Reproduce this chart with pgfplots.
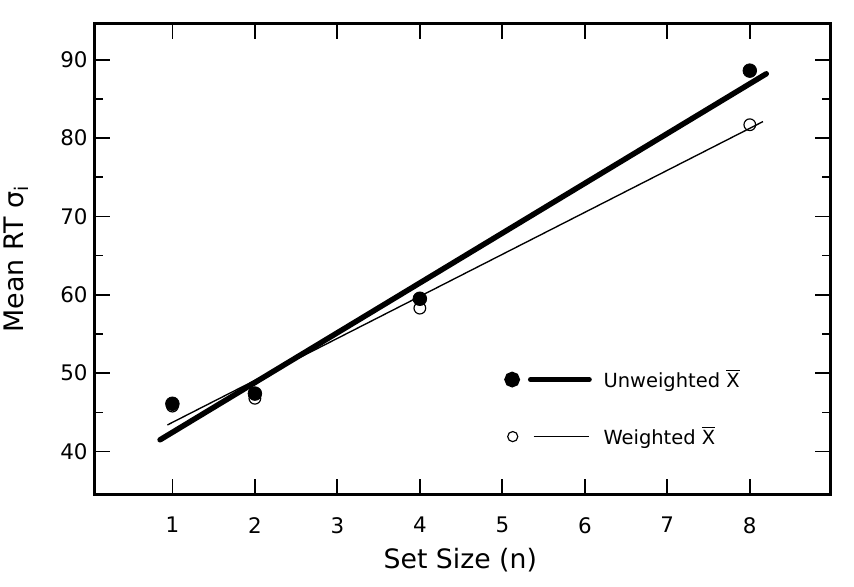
\documentclass[border=0pt]{standalone}
\usepackage{pgfplots}
\pgfplotsset{compat=1.18}
\usepackage{fontspec}
\setmainfont{DejaVu Sans}
\begin{document}
\begin{tikzpicture}
\begin{axis}[
  name=ax,
  scale only axis,
  width=378pt, height=242pt,
  xmin=0.055, xmax=8.98, ymin=34.5, ymax=94.63,
  xtick={1,2,3,4,5,6,7,8},
  ytick={40,50,60,70,80,90},
  minor ytick={45,55,65,75,85},
  tick pos=both,
  tick align=inside,
  major tick length=8pt, minor tick length=4.5pt,
  axis line style={line width=1.5pt},
  tick style={black, line width=0.9pt},
  /pgf/number format/assume math mode=true,
  ticklabel style={font=\fontsize{11}{13}\selectfont},
  xticklabel style={yshift=-8pt},
  xlabel={Set Size (n)},
  ylabel={Mean RT σ\textsubscript{i}},
  xlabel style={at={(axis description cs:0.497,-0.157)}, anchor=base, font=\fontsize{13.7}{16}\selectfont},
  ylabel style={at={(axis description cs:-0.0964,0.5)}, anchor=base, font=\fontsize{13.8}{16}\selectfont},
  legend style={at={(axis cs:5.02,45.55)}, anchor=west, draw=none, fill=none, inner sep=0pt,
    row sep=18.5pt, column sep=6pt, font=\fontsize{10}{12}\selectfont, nodes={inner sep=0pt}},
  legend cell align=left,
]
\addplot[line width=2.8pt, line cap=round,
  legend image code/.code={\draw[line width=2.8pt, line cap=round] (9.5pt,0pt) -- (39.5pt,0pt); \fill (0pt,0pt) circle (2.6pt);}]
  coordinates {(0.85,41.5) (8.2,88.2)};
\addlegendentry{Unweighted $\overline{\mbox{X}}$}
\addplot[line width=0.7pt,
  legend image code/.code={\draw[line width=0.7pt] (11pt,0pt) -- (39.5pt,0pt); \draw[line width=0.6pt] (0.3pt,0pt) circle (2.6pt);}]
  coordinates {(0.94,43.4) (8.16,82.1)};
\addlegendentry{Weighted $\overline{\mbox{X}}$}
\addplot[only marks, mark=o, mark size=3pt, mark options={line width=0.6pt}, forget plot]
  coordinates {(1,45.8) (2,46.8) (4,58.3) (8,81.7)};
\addplot[only marks, mark=*, mark size=3.5pt, forget plot]
  coordinates {(1,46.1) (2,47.4) (4,59.5) (8,88.6)};
\end{axis}
\pgfresetboundingbox
\path ([shift={(-48.5pt,-47pt)}]ax.south west) rectangle ([shift={(12pt,12pt)}]ax.north east);
\end{tikzpicture}
\end{document}
